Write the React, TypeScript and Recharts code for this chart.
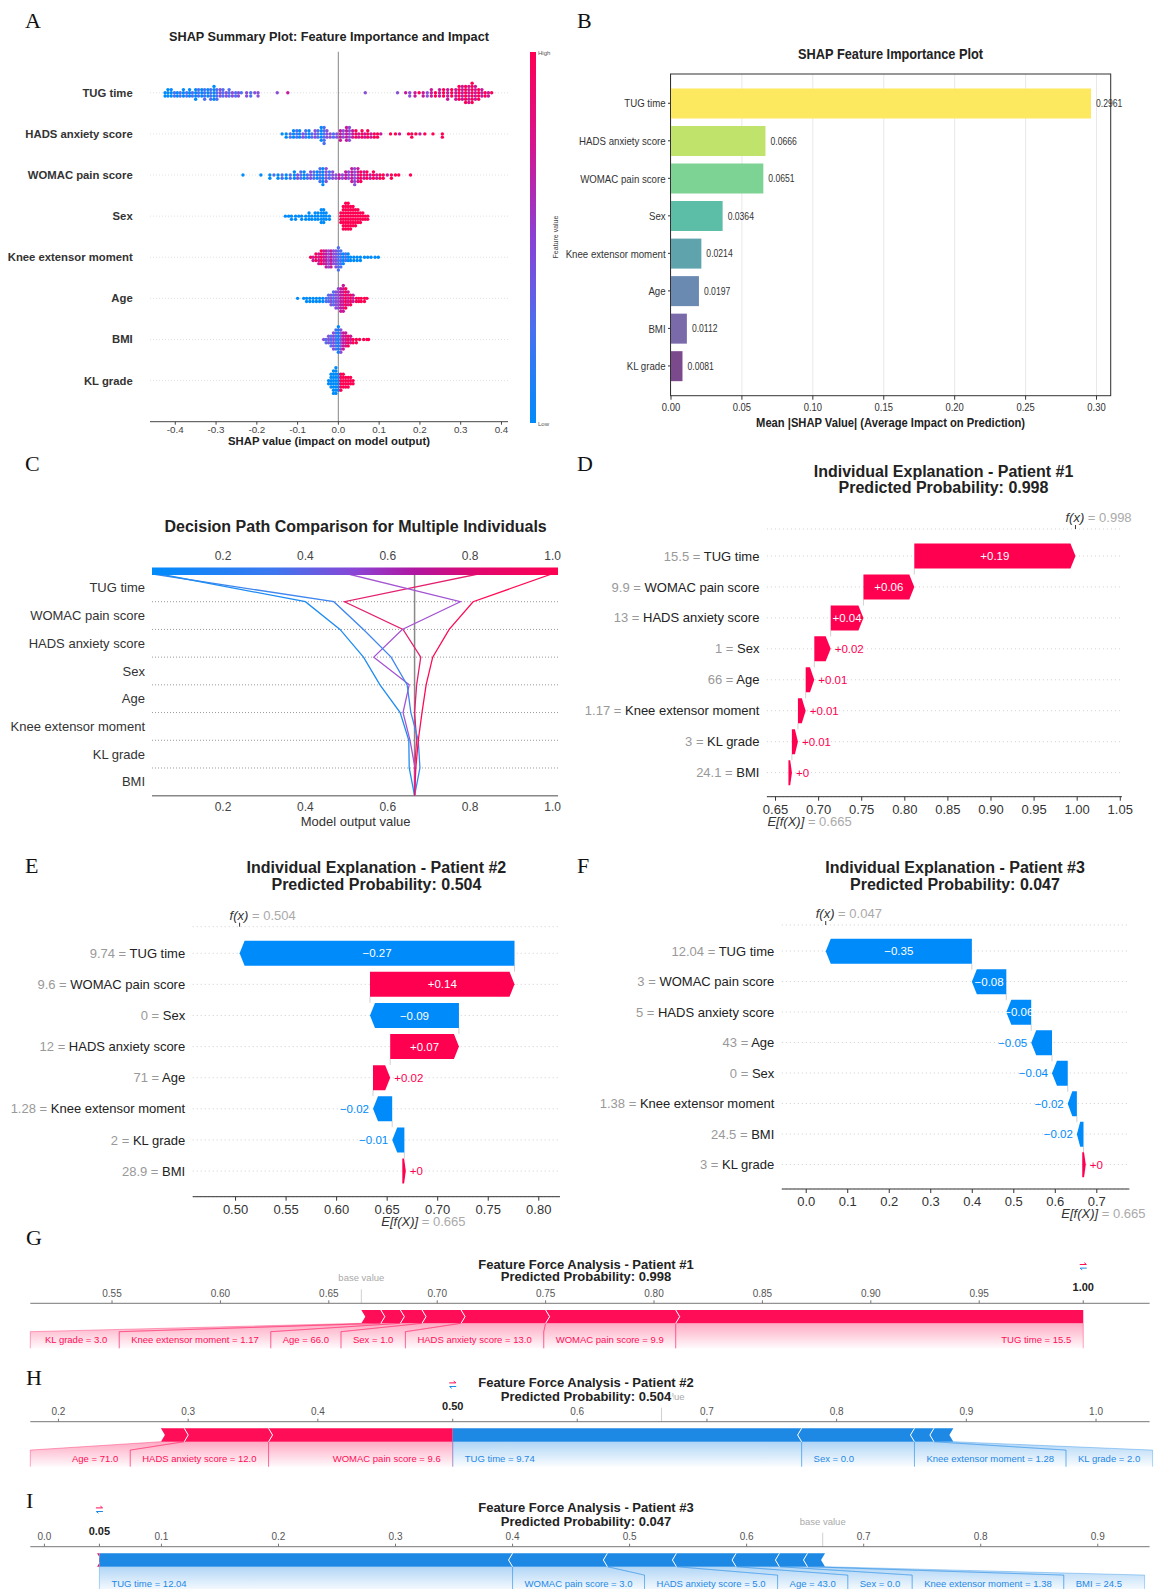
import React from 'react'
import {
  ScatterChart, Scatter, BarChart, Bar, ComposedChart, XAxis, YAxis, CartesianGrid,
  ReferenceLine, ReferenceArea, Cell, LabelList,
} from 'recharts'

const SANS = '"Liberation Sans", Arial, Helvetica, sans-serif'
const SERIF = '"Liberation Serif", "Times New Roman", Times, serif'
const NARROW_SCALE = 0.82 // panel B uses a condensed face

const SHAP_RED = '#ff0051'
const SHAP_BLUE = '#008bfb'
const FORCE_RED = '#ff0d57'
const FORCE_BLUE = '#1e88e5'
const BASE_VALUE = 0.665

// ---------- A: summary beeswarm ----------
const summaryFeatures = ['TUG time', 'HADS anxiety score', 'WOMAC pain score', 'Sex', 'Knee extensor moment', 'Age', 'BMI', 'KL grade']
const summaryTicks = [-0.4, -0.3, -0.2, -0.1, 0, 0.1, 0.2, 0.3, 0.4]
const featureColors = ['#008bfb', '#4d70f0', '#8a4fd6', '#c8189a', '#ff0052']

// [SHAP value, patients at that value, feature value class 0 = low .. 4 = high]
const swarmTug = [
  [-0.425, 2, 0], [-0.418, 3, 0], [-0.41, 3, 0], [-0.402, 2, 1], [-0.395, 2, 0], [-0.388, 2, 1], [-0.38, 3, 0],
  [-0.372, 2, 1], [-0.365, 3, 0], [-0.358, 2, 1], [-0.35, 4, 0], [-0.343, 3, 1], [-0.335, 3, 0], [-0.328, 4, 1],
  [-0.32, 3, 0], [-0.313, 4, 1], [-0.305, 5, 0], [-0.298, 4, 1], [-0.29, 3, 2], [-0.283, 3, 1], [-0.275, 2, 2],
  [-0.268, 3, 1], [-0.26, 2, 2], [-0.252, 2, 1], [-0.245, 2, 2], [-0.238, 1, 1], [-0.225, 2, 2], [-0.215, 2, 1],
  [-0.205, 1, 2], [-0.197, 2, 2], [-0.15, 1, 2], [-0.124, 1, 3],
  [0.066, 1, 2], [0.145, 1, 2], [0.165, 1, 3], [0.175, 2, 2], [0.188, 2, 3], [0.198, 1, 4], [0.208, 2, 3],
  [0.218, 2, 2], [0.228, 3, 3], [0.238, 2, 4], [0.248, 3, 3], [0.258, 3, 4], [0.268, 4, 3], [0.278, 3, 4],
  [0.288, 4, 3], [0.296, 5, 4], [0.304, 5, 3], [0.312, 6, 4], [0.32, 6, 3], [0.328, 7, 4], [0.336, 5, 3],
  [0.344, 4, 4], [0.352, 3, 3], [0.36, 2, 4], [0.368, 2, 3], [0.376, 1, 4],
]
const swarmHads = [
  [-0.138, 1, 0], [-0.128, 2, 0], [-0.118, 2, 1], [-0.11, 3, 0], [-0.102, 3, 1], [-0.095, 3, 0], [-0.087, 2, 2],
  [-0.08, 3, 1], [-0.072, 3, 0], [-0.065, 2, 1], [-0.057, 3, 2], [-0.05, 3, 1], [-0.042, 5, 0], [-0.035, 6, 1],
  [-0.028, 3, 2], [-0.02, 2, 2], [-0.012, 2, 1], [-0.004, 2, 2], [0.005, 4, 3], [0.012, 3, 2], [0.02, 5, 3],
  [0.027, 5, 2], [0.035, 3, 3], [0.043, 3, 4], [0.05, 2, 3], [0.058, 3, 4], [0.065, 2, 3], [0.072, 3, 4],
  [0.08, 2, 3], [0.088, 2, 4], [0.096, 2, 4], [0.104, 1, 3], [0.128, 1, 4], [0.14, 1, 4], [0.15, 1, 3],
  [0.172, 1, 4], [0.18, 2, 4], [0.19, 1, 4], [0.2, 1, 3], [0.212, 1, 4], [0.232, 1, 4], [0.255, 2, 4],
]
const swarmWomac = [
  [-0.234, 1, 0], [-0.19, 1, 0], [-0.168, 2, 0], [-0.158, 1, 1], [-0.148, 2, 0], [-0.138, 2, 1], [-0.128, 2, 0],
  [-0.118, 2, 1], [-0.108, 3, 0], [-0.1, 2, 2], [-0.092, 3, 1], [-0.084, 3, 0], [-0.076, 2, 1], [-0.068, 3, 2],
  [-0.06, 3, 1], [-0.052, 3, 0], [-0.045, 5, 1], [-0.038, 6, 0], [-0.03, 5, 2], [-0.022, 3, 1], [-0.014, 3, 2],
  [-0.006, 2, 2], [0.002, 2, 3], [0.01, 2, 2], [0.018, 3, 3], [0.025, 3, 2], [0.033, 5, 3], [0.04, 6, 2],
  [0.048, 5, 3], [0.055, 4, 4], [0.063, 3, 3], [0.07, 3, 4], [0.078, 2, 3], [0.086, 3, 4], [0.094, 2, 3],
  [0.102, 2, 4], [0.11, 2, 4], [0.12, 1, 3], [0.13, 2, 4], [0.14, 1, 4], [0.148, 1, 4], [0.177, 1, 4],
]
const swarmSex = [
  [-0.13, 1, 0], [-0.122, 1, 0], [-0.115, 2, 0], [-0.105, 2, 0], [-0.097, 1, 0], [-0.09, 2, 0], [-0.08, 2, 0],
  [-0.072, 3, 0], [-0.065, 2, 0], [-0.057, 3, 0], [-0.05, 3, 0], [-0.042, 5, 0], [-0.036, 5, 0], [-0.03, 3, 0],
  [-0.022, 2, 0],
  [0.006, 4, 4], [0.012, 8, 4], [0.018, 9, 4], [0.024, 9, 4], [0.03, 8, 4], [0.036, 7, 4], [0.042, 6, 4],
  [0.048, 5, 4], [0.054, 4, 4], [0.06, 3, 4], [0.066, 2, 4], [0.072, 2, 4],
]
const swarmKnee = [
  [-0.068, 1, 4], [-0.062, 2, 3], [-0.055, 3, 4], [-0.048, 4, 3], [-0.042, 5, 4], [-0.036, 5, 3], [-0.03, 6, 3],
  [-0.024, 6, 2], [-0.018, 6, 3], [-0.012, 5, 2], [-0.006, 6, 2], [0, 8, 1], [0.006, 6, 1], [0.012, 4, 0],
  [0.018, 3, 1], [0.024, 3, 0], [0.03, 2, 0], [0.038, 2, 0], [0.046, 2, 0], [0.054, 2, 0], [0.064, 1, 0],
  [0.072, 1, 0], [0.08, 1, 0], [0.09, 1, 0], [0.098, 1, 0],
]
const swarmAge = [
  [-0.1, 1, 0], [-0.085, 1, 0], [-0.078, 2, 0], [-0.07, 2, 0], [-0.062, 2, 0], [-0.054, 2, 0], [-0.046, 2, 0],
  [-0.038, 2, 0], [-0.03, 2, 1], [-0.024, 3, 1], [-0.018, 4, 2], [-0.012, 5, 1], [-0.006, 6, 2], [0, 7, 2],
  [0.006, 8, 3], [0.012, 9, 3], [0.018, 7, 4], [0.024, 5, 3], [0.03, 4, 4], [0.036, 3, 3], [0.044, 2, 4],
  [0.05, 2, 4], [0.056, 2, 4], [0.064, 2, 4], [0.07, 1, 4],
]
const swarmBmi = [
  [-0.036, 1, 2], [-0.03, 2, 1], [-0.024, 3, 2], [-0.018, 4, 1], [-0.012, 6, 2], [-0.006, 7, 1], [0, 9, 0],
  [0.006, 8, 2], [0.012, 6, 3], [0.018, 5, 3], [0.024, 4, 4], [0.03, 3, 3], [0.036, 2, 4], [0.044, 2, 4],
  [0.052, 1, 4], [0.062, 1, 4], [0.07, 1, 4], [0.074, 1, 4],
]
const swarmKl = [
  [-0.024, 2, 0], [-0.018, 5, 0], [-0.012, 8, 0], [-0.006, 9, 0], [0, 6, 0],
  [0.006, 6, 4], [0.012, 5, 4], [0.018, 4, 4], [0.024, 4, 4], [0.03, 3, 4], [0.036, 2, 4],
]
const swarmRows = [swarmTug, swarmHads, swarmWomac, swarmSex, swarmKnee, swarmAge, swarmBmi, swarmKl]
const SWARM_STEP = 0.078 // one dot height, in row units

const swarmPoints = swarmRows.flatMap((row, r) =>
  row.flatMap(([v, n, c]) =>
    Array.from({ length: n }, (_, k) => ({
      x: v,
      y: r + (k % 2 ? (k + 1) / 2 : -k / 2) * SWARM_STEP,
      fill: featureColors[c],
    }))
  )
)

// ---------- B: mean |SHAP| ----------
const importanceValues = [0.2961, 0.0666, 0.0651, 0.0364, 0.0214, 0.0197, 0.0112, 0.0081]
const importanceColors = ['#fde95f', '#bfe36b', '#7dd394', '#5dbea8', '#5fa3ad', '#6b8ab1', '#7a6aaa', '#7b4a8c']
const importanceTicks = [0, 0.05, 0.1, 0.15, 0.2, 0.25, 0.3]
const importanceData = summaryFeatures.map((f, i) => ({ feature: f, value: importanceValues[i] }))

// ---------- C: decision paths ----------
const decisionFeatures = ['TUG time', 'WOMAC pain score', 'HADS anxiety score', 'Sex', 'Age', 'Knee extensor moment', 'KL grade', 'BMI']
const decisionTicks = [0.2, 0.4, 0.6, 0.8, 1.0]
// model output at each feature boundary, final prediction (top) down to base value (bottom)
const decisionPatient1 = [0.998, 0.807, 0.749, 0.709, 0.693, 0.683, 0.674, 0.668, 0.665]
const decisionPatient2 = [0.504, 0.776, 0.635, 0.566, 0.652, 0.637, 0.654, 0.666, 0.665]
const decisionPatient3 = [0.047, 0.4, 0.484, 0.541, 0.581, 0.63, 0.651, 0.652, 0.665]
const decisionPatient4 = [0.03, 0.469, 0.541, 0.608, 0.647, 0.656, 0.674, 0.678, 0.665]
const decisionPatient5 = [0.819, 0.495, 0.637, 0.68, 0.67, 0.665, 0.67, 0.665, 0.665]
const decisionColors = ['#ff0a55', '#a453d2', '#1e8cf2', '#3f86ee', '#e4206f']
const decisionPaths = [decisionPatient5, decisionPatient2, decisionPatient4, decisionPatient3, decisionPatient1]
const decisionPathColors = [decisionColors[4], decisionColors[1], decisionColors[3], decisionColors[2], decisionColors[0]]

// ---------- D/E/F: waterfalls ----------
const p1Names = ['TUG time', 'WOMAC pain score', 'HADS anxiety score', 'Sex', 'Age', 'Knee extensor moment', 'KL grade', 'BMI']
const p1Inputs = ['15.5', '9.9', '13', '1', '66', '1.17', '3', '24.1']
const p1Shap = [0.187, 0.059, 0.038, 0.019, 0.01, 0.009, 0.007, 0.004]
const p2Names = ['TUG time', 'WOMAC pain score', 'Sex', 'HADS anxiety score', 'Age', 'Knee extensor moment', 'KL grade', 'BMI']
const p2Inputs = ['9.74', '9.6', '0', '12', '71', '1.28', '2', '28.9']
const p2Shap = [-0.272, 0.143, -0.088, 0.068, 0.017, -0.019, -0.012, 0.002]
const p3Names = ['TUG time', 'WOMAC pain score', 'HADS anxiety score', 'Age', 'Sex', 'Knee extensor moment', 'BMI', 'KL grade']
const p3Inputs = ['12.04', '3', '5', '43', '0', '1.38', '24.5', '3']
const p3Shap = [-0.352, -0.083, -0.06, -0.05, -0.038, -0.022, -0.016, 0.003]
const p1Ticks = [0.65, 0.7, 0.75, 0.8, 0.85, 0.9, 0.95, 1.0, 1.05]
const p2Ticks = [0.5, 0.55, 0.6, 0.65, 0.7, 0.75, 0.8]
const p3Ticks = [0, 0.1, 0.2, 0.3, 0.4, 0.5, 0.6, 0.7]

// ---------- G/H/I: force plots ----------
const forceP1PosLabels = ['TUG time = 15.5', 'WOMAC pain score = 9.9', 'HADS anxiety score = 13.0', 'Sex = 1.0', 'Age = 66.0', 'Knee extensor moment = 1.17', 'KL grade = 3.0']
const forceP1PosShap = [0.188, 0.06, 0.039, 0.018, 0.01, 0.009, 0.009]
const forceP2PosLabels = ['WOMAC pain score = 9.6', 'HADS anxiety score = 12.0', 'Age = 71.0']
const forceP2PosShap = [0.142, 0.065, 0.018]
const forceP2NegLabels = ['TUG time = 9.74', 'Sex = 0.0', 'Knee extensor moment = 1.28', 'KL grade = 2.0']
const forceP2NegShap = [-0.269, -0.087, -0.015, -0.015]
const forceP3PosLabels = ['KL grade = 3.0']
const forceP3PosShap = [0.002]
const forceP3NegLabels = ['TUG time = 12.04', 'WOMAC pain score = 3.0', 'HADS anxiety score = 5.0', 'Age = 43.0', 'Sex = 0.0', 'Knee extensor moment = 1.38', 'BMI = 24.5']
const forceP3NegShap = [-0.353, -0.081, -0.059, -0.051, -0.037, -0.024, -0.015]
const forceP1Ticks = [0.55, 0.6, 0.65, 0.7, 0.75, 0.8, 0.85, 0.9, 0.95]
const forceP2Ticks = [0.2, 0.3, 0.4, 0.6, 0.7, 0.8, 0.9, 1.0]
const forceP3Ticks = [0, 0.1, 0.2, 0.3, 0.4, 0.5, 0.6, 0.7, 0.8, 0.9]

// ---------- helpers ----------
const vb = (p: any) => p.viewBox || p
const fmtShap = (v: number) => (v < 0 ? '\u2212' : '+') + Math.abs(v).toFixed(2).replace(/\.?0+$/, '')

let measureCtx: any = null
function textWidth(s: string, size: number) {
  if (!measureCtx) measureCtx = document.createElement('canvas').getContext('2d')
  measureCtx.font = `${size}px "Liberation Sans", Arial, sans-serif`
  return measureCtx.measureText(s).width
}

// condensed text for panel B
function NarrowText({ x, y, anchor, size, dy = 0, weight = 400, children }: any) {
  return (
    <text transform={`translate(${x} ${y}) scale(${NARROW_SCALE} 1)`} dy={dy} textAnchor={anchor} fontSize={size}
      fontWeight={weight} fill="#333" fontFamily={SANS}>{children}</text>
  )
}

function SummaryPanel() {
  return (
    <ScatterChart width={570} height={450} margin={{ top: 51.7, right: 62, bottom: 8.3, left: 0 }}>
      <XAxis type="number" dataKey="x" domain={[-0.462, 0.416]} allowDataOverflow ticks={summaryTicks} interval={0}
        tickFormatter={(v: number) => v.toFixed(1)} height={20} tickSize={3} tickMargin={1.8} stroke="#444"
        tick={{ fontSize: 9.8, fill: '#444', fontFamily: SANS }} />
      <YAxis type="number" dataKey="y" domain={[-1, 8]} reversed allowDataOverflow ticks={[0, 1, 2, 3, 4, 5, 6, 7]} interval={0}
        tickFormatter={(v: number) => summaryFeatures[v]} width={150} axisLine={false} tickLine={false} tickSize={0} tickMargin={17.3}
        tick={{ fontSize: 11.3, fontWeight: 700, fill: '#333', fontFamily: SANS }} />
      {summaryFeatures.map((f, i) => <ReferenceLine key={f} y={i} stroke="#e2e2e2" strokeDasharray="1 2" />)}
      <ReferenceLine x={0} stroke="#9a9a9a" strokeWidth={1.2} />
      <Scatter data={swarmPoints} isAnimationActive={false}
        shape={(p: any) => <circle cx={p.cx} cy={p.cy} r={1.7} fill={p.payload.fill} />} />
    </ScatterChart>
  )
}

function ImportancePanel() {
  return (
    <BarChart layout="vertical" width={598} height={450} data={importanceData} barSize={30}
      margin={{ top: 74, right: 47.3, bottom: 34.3, left: 0 }}>
      <CartesianGrid horizontal={false} stroke="#e8e8e8" />
      <XAxis type="number" domain={[0, 0.31]} allowDataOverflow ticks={importanceTicks} interval={0}
        height={20} axisLine={false} tickSize={4} tickMargin={3.3} stroke="#333"
        tick={(p: any) => <NarrowText x={p.x} y={p.y} dy="0.71em" anchor="middle" size={11.5}>{Number(p.payload.value).toFixed(2)}</NarrowText>} />
      <YAxis type="category" dataKey="feature" width={111} axisLine={false} tickSize={3} tickMargin={2.4} stroke="#333"
        padding={{ top: 10.5, bottom: 11 }} interval={0}
        tick={(p: any) => <NarrowText x={p.x} y={p.y} dy="0.355em" anchor="end" size={11.8}>{p.payload.value}</NarrowText>} />
      <Bar dataKey="value" isAnimationActive={false}>
        {importanceData.map((d, i) => <Cell key={d.feature} fill={importanceColors[i]} />)}
        <LabelList dataKey="value"
          content={(p: any) => (
            <NarrowText x={p.x + p.width + 5} y={p.y + p.height / 2} dy="0.355em" anchor="start" size={10.5}>
              {Number(p.value).toFixed(4)}
            </NarrowText>
          )} />
      </Bar>
    </BarChart>
  )
}

function DecisionPanel() {
  const anchor = [{ x: 0.5, y: 4 }]
  return (
    <ScatterChart width={570} height={380} margin={{ top: 104, right: 12, bottom: 14.3, left: 0 }}>
      <XAxis xAxisId="bottom" type="number" dataKey="x" domain={[0.0277, 1.0131]} allowDataOverflow ticks={decisionTicks} interval={0}
        tickFormatter={(v: number) => v.toFixed(1)} height={20} axisLine={{ stroke: '#888', strokeWidth: 1.5 }} tickLine={false}
        tickSize={0} tickMargin={7} tick={{ fontSize: 12, fill: '#444', fontFamily: SANS }} />
      <XAxis xAxisId="top" orientation="top" type="number" dataKey="x" domain={[0.0277, 1.0131]} allowDataOverflow ticks={decisionTicks}
        interval={0} tickFormatter={(v: number) => v.toFixed(1)} height={20} axisLine={false} tickLine={false}
        tickSize={0} tickMargin={13.7} tick={{ fontSize: 12, fill: '#444', fontFamily: SANS }} />
      <YAxis type="number" dataKey="y" domain={[0, 8]} reversed allowDataOverflow ticks={[0.5, 1.5, 2.5, 3.5, 4.5, 5.5, 6.5, 7.5]}
        interval={0} tickFormatter={(v: number) => decisionFeatures[Math.floor(v)]} width={152} axisLine={false} tickLine={false}
        tickSize={0} tickMargin={7} tick={{ fontSize: 13, fill: '#333', fontFamily: SANS }} />
      {[1, 2, 3, 4, 5, 6, 7].map((i) => (
        <ReferenceLine key={i} xAxisId="bottom" y={i} stroke="#999" strokeDasharray="1 2" />
      ))}
      <ReferenceLine xAxisId="bottom" x={BASE_VALUE} stroke="#888" strokeWidth={1.5} />
      <Scatter xAxisId="top" data={anchor} isAnimationActive={false} shape={() => <g />} />
      {decisionPaths.map((path, i) => (
        <Scatter key={i} xAxisId="bottom" isAnimationActive={false}
          data={path.map((v, b) => ({ x: v, y: b }))}
          line={{ stroke: decisionPathColors[i], strokeWidth: 1.3 }} shape={() => <g />} />
      ))}
    </ScatterChart>
  )
}

function buildWaterfall(names: string[], inputs: string[], shap: number[]) {
  const rows: any[] = names.map((name, i) => ({ name, input: inputs[i], shap: shap[i], bottom: i === names.length - 1 }))
  let cum = BASE_VALUE
  for (let i = rows.length - 1; i >= 0; i--) {
    rows[i].start = cum
    cum += rows[i].shap
    rows[i].end = cum
    rows[i].range = [Math.min(rows[i].start, rows[i].end), Math.max(rows[i].start, rows[i].end)]
  }
  return { rows, fx: cum }
}

function renderWfBar(p: any) {
  const r = p.payload
  const pos = r.shap >= 0
  let x0 = p.x
  let w = p.width
  if (w < 0) { x0 += w; w = -w }
  if (w < 3.5) { if (!pos) x0 -= 3.5 - w; w = 3.5 }
  const x1 = x0 + w
  const t = p.y, bt = p.y + p.height, m = p.y + p.height / 2
  const head = Math.min(5, w * 0.5)
  const pts = pos
    ? [[x0, t], [x1 - head, t], [x1, m], [x1 - head, bt], [x0, bt]]
    : [[x1, t], [x0 + head, t], [x0, m], [x0 + head, bt], [x1, bt]]
  const color = pos ? SHAP_RED : SHAP_BLUE
  const label = fmtShap(r.shap)
  const inside = w > 23
  const startPx = pos ? x0 : x1
  return (
    <g>
      {!r.bottom && <line x1={startPx} x2={startPx} y1={bt} y2={bt + 6} stroke="#bbb" strokeWidth={0.7} />}
      <polygon points={pts.map((q) => q.join(',')).join(' ')} fill={color} />
      {inside ? (
        <text x={(x0 + x1) / 2} y={m + 4.1} textAnchor="middle" fill="#fff" fontSize={11.5} fontFamily={SANS}>{label}</text>
      ) : (
        <text x={pos ? x1 + 4 : x0 - 4} y={m + 4.1} textAnchor={pos ? 'start' : 'end'} fill={color} fontSize={11.5} fontFamily={SANS}>{label}</text>
      )}
    </g>
  )
}

const wfFxLabel = (fx: number) => (p: any) => {
  const { x, y } = vb(p)
  return (
    <g>
      <line x1={x} x2={x} y1={y - 4} y2={y} stroke="#333" />
      <text x={x - 10} y={y - 7} fontSize={13} fontFamily={SANS}>
        <tspan fill="#333" fontStyle="italic">f(x)</tspan>
        <tspan fill="#aaa"> = {fx.toFixed(3)}</tspan>
      </text>
    </g>
  )
}

const wfBaseLabel = (p: any) => {
  const { x, y, height } = vb(p)
  return (
    <text x={x - 21} y={y + height + 29} fontSize={13} fontFamily={SANS}>
      <tspan fill="#333" fontStyle="italic">E[f(X)]</tspan>
      <tspan fill="#aaa"> = {BASE_VALUE.toFixed(3)}</tspan>
    </text>
  )
}

function WaterfallPanel(props: any) {
  const { left, top, width, height, plotLeft, plotRight, plotTop, plotBottom, padding, domain, ticks, digits, names, inputs, shap } = props
  const { rows, fx } = buildWaterfall(names, inputs, shap)
  const margin = { top: plotTop, right: width - plotRight, bottom: height - plotBottom - 25, left: 0 }
  const yTick = (p: any) => {
    const r = rows.find((row: any) => row.name === p.payload.value)
    return (
      <text x={p.x} y={p.y} dy={4.6} textAnchor="end" fontSize={13} fontFamily={SANS}>
        <tspan fill="#999">{r.input} = </tspan>
        <tspan fill="#222">{r.name}</tspan>
      </text>
    )
  }
  // dotted f(x) and E[f(X)] guides, drawn in the grid layer so they stay behind the bars
  const guideXs = ({ xAxis }: any) => {
    const s = xAxis && xAxis.scale
    return typeof s === 'function' ? [s(fx), s(BASE_VALUE)] : []
  }
  return (
    <div style={{ position: 'absolute', left, top }}>
      <BarChart layout="vertical" width={width} height={height} data={rows} margin={margin} barSize={25}>
        <CartesianGrid vertical={false} stroke="#cfcfcf" strokeDasharray="1 3" />
        <CartesianGrid horizontal={false} verticalCoordinatesGenerator={guideXs} stroke="#bdbdbd" strokeDasharray="2 2" />
        <XAxis type="number" domain={domain} allowDataOverflow ticks={ticks} interval={0}
          tickFormatter={(v: number) => v.toFixed(digits)} height={25} tickSize={4} tickMargin={3.6} stroke="#333"
          tick={{ fontSize: 13, fill: '#333', fontFamily: SANS }} />
        <YAxis type="category" dataKey="name" width={plotLeft} axisLine={false} tickLine={false} tickSize={0} tickMargin={7.5}
          padding={padding} interval={0} tick={yTick} />
        <ReferenceLine x={fx} stroke="none" label={wfFxLabel(fx)} />
        <ReferenceLine x={BASE_VALUE} stroke="none" label={wfBaseLabel} />
        <Bar dataKey="range" isAnimationActive={false} shape={renderWfBar} />
      </BarChart>
    </div>
  )
}

function buildForce(posLabels: string[], posShap: number[], negLabels: string[], negShap: number[]) {
  const fx = BASE_VALUE + posShap.reduce((a, b) => a + b, 0) + negShap.reduce((a, b) => a + b, 0)
  const segs: any[] = []
  let edge = fx
  posLabels.forEach((label, i) => {
    segs.push({ side: 'pos', label, order: i, lo: edge - posShap[i], hi: edge })
    edge -= posShap[i]
  })
  edge = fx
  negLabels.forEach((label, i) => {
    const w = -negShap[i]
    segs.push({ side: 'neg', label, order: i, lo: edge, hi: edge + w })
    edge += w
  })
  return { fx, segs }
}

const BOX_PAD = 12
const FORCE_FONT = 9.5

function forceBoxes(segs: any[], px: (v: number) => number, left: number, right: number) {
  const boxes: any = {}
  ;['pos', 'neg'].forEach((side) => {
    const shown = segs.filter((s) => s.side === side && px(s.hi) - px(s.lo) >= 6)
    let edge = 0
    shown.forEach((s, i) => {
      const need = textWidth(s.label, FORCE_FONT) + 2 * BOX_PAD
      if (side === 'pos') {
        const R = i === 0 ? px(s.hi) : edge
        let L = Math.min(px(s.lo), R - need)
        if (i === shown.length - 1) L = Math.min(L, left)
        boxes[s.label] = { L, R }
        edge = L
      } else {
        const L = i === 0 ? px(s.lo) : edge
        let R = Math.max(px(s.hi), L + need)
        if (i === shown.length - 1) R = Math.max(R, right - 5)
        boxes[s.label] = { L, R }
        edge = R
      }
    })
  })
  return boxes
}

function renderForceSeg(p: any, seg: any, segs: any[], domain: number[]) {
  const { x, y, width, height } = p
  const k = width / (seg.hi - seg.lo)
  const px = (v: number) => x + (v - seg.lo) * k
  const boxes = forceBoxes(segs, px, px(domain[0]), px(domain[1]))
  const a = x, b = x + width, t = y, bt = y + height, m = y + height / 2
  const d = 4
  const first = seg.order === 0
  const pos = seg.side === 'pos'
  const color = pos ? FORCE_RED : FORCE_BLUE
  let pts: number[][]
  if (pos) pts = first ? [[a, t], [b, t], [b, bt], [a, bt], [a + d, m]] : [[a, t], [b, t], [b + d, m], [b, bt], [a, bt], [a + d, m]]
  else pts = first ? [[a, t], [b, t], [b - d, m], [b, bt], [a, bt]] : [[a, t], [b, t], [b - d, m], [b, bt], [a, bt], [a - d, m]]
  const box = boxes[seg.label]
  const lt = bt + 8.4, lb = bt + 25
  return (
    <g>
      {box && (
        <g>
          <polygon points={`${a},${bt} ${b},${bt} ${box.R},${lt} ${box.R},${lb} ${box.L},${lb} ${box.L},${lt}`}
            fill={pos ? 'url(#shadeRed)' : 'url(#shadeBlue)'} />
          <polyline points={`${a},${bt} ${box.L},${lt} ${box.L},${lb}`} fill="none" stroke={color} strokeOpacity={0.45} strokeWidth={0.8} />
          <polyline points={`${b},${bt} ${box.R},${lt} ${box.R},${lb}`} fill="none" stroke={color} strokeOpacity={0.45} strokeWidth={0.8} />
          <text x={pos ? box.R - BOX_PAD : box.L + BOX_PAD} y={bt + 20.1} textAnchor={pos ? 'end' : 'start'}
            fontSize={FORCE_FONT} fill={color} fontFamily={SANS}>{seg.label}</text>
        </g>
      )}
      <polygon points={pts.map((q) => q.join(',')).join(' ')} fill={color} />
      {!first && (
        <polyline points={pos ? `${b},${t} ${b + d},${m} ${b},${bt}` : `${a},${t} ${a - d},${m} ${a},${bt}`}
          fill="none" stroke="#fff" strokeWidth={1} />
      )}
    </g>
  )
}

const forceBaseLabel = (p: any) => {
  const { x, y } = vb(p)
  return (
    <g>
      <line x1={x} x2={x} y1={y - 14} y2={y} stroke="#d0d0d0" />
      <text x={x} y={y - 22} textAnchor="middle" fontSize={9.5} fill="#aaa" fontFamily={SANS}>base value</text>
    </g>
  )
}

const forceFxLabel = (fx: number) => (p: any) => {
  const { x, y } = vb(p)
  const iy = y - 37
  return (
    <g>
      <line x1={x} x2={x} y1={y - 3} y2={y} stroke="#777" />
      <text x={x} y={y - 12} textAnchor="middle" fontSize={11} fontWeight={700} fill="#222" fontFamily={SANS}>{fx.toFixed(2)}</text>
      <path d={`M${x - 3.5},${iy - 1.8} H${x + 3} M${x + 1},${iy - 3.6} L${x + 3.2},${iy - 1.8}`} stroke={FORCE_RED} fill="none" />
      <path d={`M${x + 3.5},${iy + 1.8} H${x - 3} M${x - 1},${iy + 3.6} L${x - 3.2},${iy + 1.8}`} stroke={FORCE_BLUE} fill="none" />
    </g>
  )
}

function ForcePanel(props: any) {
  const { top, height, axisY, domain, ticks, digits, posLabels, posShap, negLabels, negShap } = props
  const { fx, segs } = buildForce(posLabels, posShap, negLabels, negShap)
  const mt = axisY - top - 20
  const mb = height - (axisY - top) - 20
  const anchors = [{ x: domain[0], y: 0 }, { x: domain[1], y: 1 }]
  return (
    <div style={{ position: 'absolute', left: 0, top }}>
      <ComposedChart width={1158} height={height} margin={{ top: mt, right: 8.4, bottom: mb, left: 30.3 }}>
        <XAxis type="number" dataKey="x" orientation="top" domain={domain} allowDataOverflow ticks={ticks} interval={0}
          tickFormatter={(v: number) => v.toFixed(digits)} height={20} tickSize={3} tickMargin={3.6} stroke="#777"
          tick={{ fontSize: 10, fill: '#555', fontFamily: SANS }} />
        <YAxis type="number" dataKey="y" domain={[0, 1]} hide />
        <Scatter data={anchors} isAnimationActive={false} shape={() => <g />} />
        <ReferenceLine x={BASE_VALUE} stroke="none" label={forceBaseLabel} />
        <ReferenceLine x={fx} stroke="none" label={forceFxLabel(fx)} />
        {segs.map((s) => (
          <ReferenceArea key={s.label} x1={s.lo} x2={s.hi} y1={0} y2={0.667}
            shape={(p: any) => renderForceSeg(p, s, segs, domain)} />
        ))}
      </ComposedChart>
    </div>
  )
}

function Txt({ x, y, size, bold, anchor = 'middle', fill = '#222', family = SANS, halo, children, transform, textLength }: any) {
  return (
    <text x={x} y={y} fontSize={size} fontWeight={bold ? 700 : 400} textAnchor={anchor} fill={fill} fontFamily={family}
      stroke={halo ? '#fff' : undefined} strokeWidth={halo ? 4 : undefined} strokeLinejoin="round"
      style={{ paintOrder: 'stroke' }} transform={transform}
      textLength={textLength} lengthAdjust={textLength ? 'spacingAndGlyphs' : undefined}>{children}</text>
  )
}

function Overlay() {
  const letters: [string, number, number][] = [
    ['A', 25, 28], ['B', 577, 28], ['C', 25, 471], ['D', 577, 471], ['E', 25, 873], ['F', 577, 873],
    ['G', 26, 1245], ['H', 26, 1385], ['I', 26, 1508],
  ]
  return (
    <svg width={1158} height={1589} style={{ position: 'absolute', left: 0, top: 0, pointerEvents: 'none' }}>
      <defs>
        <linearGradient id="cbVertical" x1="0" y1="0" x2="0" y2="1">
          <stop offset="0" stopColor="#ff0052" />
          <stop offset="0.25" stopColor="#d6148f" />
          <stop offset="0.5" stopColor="#8a40d6" />
          <stop offset="0.75" stopColor="#4870f0" />
          <stop offset="1" stopColor="#008bfb" />
        </linearGradient>
        <linearGradient id="cbHorizontal" x1="0" y1="0" x2="1" y2="0">
          <stop offset="0" stopColor="#008bfb" />
          <stop offset="0.3" stopColor="#3d77f0" />
          <stop offset="0.5" stopColor="#8a45d5" />
          <stop offset="0.65" stopColor="#b0169f" />
          <stop offset="0.8" stopColor="#e0086e" />
          <stop offset="1" stopColor="#ff0052" />
        </linearGradient>
        <linearGradient id="shadeRed" x1="0" y1="0" x2="0" y2="1">
          <stop offset="0" stopColor={FORCE_RED} stopOpacity={0.35} />
          <stop offset="1" stopColor={FORCE_RED} stopOpacity={0.02} />
        </linearGradient>
        <linearGradient id="shadeBlue" x1="0" y1="0" x2="0" y2="1">
          <stop offset="0" stopColor={FORCE_BLUE} stopOpacity={0.35} />
          <stop offset="1" stopColor={FORCE_BLUE} stopOpacity={0.02} />
        </linearGradient>
      </defs>

      {letters.map(([l, x, y]) => (
        <Txt key={l} x={x} y={y} size={22} anchor="start" fill="#111" family={SERIF}>{l}</Txt>
      ))}

      {/* A */}
      <Txt x={329} y={40.6} size={12.7} bold>SHAP Summary Plot: Feature Importance and Impact</Txt>
      <Txt x={329} y={444.8} size={11.3} bold>SHAP value (impact on model output)</Txt>
      <rect x={530} y={52} width={6} height={371} fill="url(#cbVertical)" />
      <Txt x={538} y={54.5} size={6} anchor="start" fill="#555">High</Txt>
      <Txt x={538} y={425.5} size={6} anchor="start" fill="#555">Low</Txt>
      <Txt x={0} y={0} size={7} fill="#444" transform="translate(557.5 237) rotate(-90)">Feature value</Txt>

      {/* B */}
      <Txt x={890.6} y={59.4} size={15} bold textLength={185}>SHAP Feature Importance Plot</Txt>
      <Txt x={890.6} y={427.4} size={13} bold textLength={269}>Mean |SHAP Value| (Average Impact on Prediction)</Txt>
      <rect x={670.5} y={74} width={440.2} height={321.7} fill="none" stroke="#333" strokeWidth={1} />

      {/* C */}
      <Txt x={355.6} y={531.8} size={16} bold>Decision Path Comparison for Multiple Individuals</Txt>
      <rect x={152} y={567.5} width={406} height={7.5} fill="url(#cbHorizontal)" />
      <Txt x={355.6} y={826.4} size={13} fill="#333">Model output value</Txt>

      {/* D, E, F */}
      <Txt x={943.5} y={476.5} size={16} bold>Individual Explanation - Patient #1</Txt>
      <Txt x={943.5} y={493.1} size={16} bold>Predicted Probability: 0.998</Txt>
      <Txt x={376.4} y={873.1} size={16} bold>Individual Explanation - Patient #2</Txt>
      <Txt x={376.4} y={890.1} size={16} bold>Predicted Probability: 0.504</Txt>
      <Txt x={955} y={872.5} size={16} bold>Individual Explanation - Patient #3</Txt>
      <Txt x={955} y={889.8} size={16} bold>Predicted Probability: 0.047</Txt>

      {/* G, H, I */}
      <Txt x={586} y={1269} size={13} bold halo>Feature Force Analysis - Patient #1</Txt>
      <Txt x={586} y={1281.4} size={13} bold halo>Predicted Probability: 0.998</Txt>
      <Txt x={586} y={1387} size={13} bold halo>Feature Force Analysis - Patient #2</Txt>
      <Txt x={586} y={1400.7} size={13} bold halo>Predicted Probability: 0.504</Txt>
      <Txt x={586} y={1512} size={13} bold halo>Feature Force Analysis - Patient #3</Txt>
      <Txt x={586} y={1525.7} size={13} bold halo>Predicted Probability: 0.047</Txt>
    </svg>
  )
}

export default function App() {
  return (
    <div style={{ position: 'absolute', left: 0, top: 0, width: 1158, height: 1589, background: '#fff', overflow: 'hidden', fontFamily: SANS }}>
      <div style={{ position: 'absolute', left: 0, top: 0 }}><SummaryPanel /></div>
      <div style={{ position: 'absolute', left: 560, top: 0 }}><ImportancePanel /></div>
      <div style={{ position: 'absolute', left: 0, top: 450 }}><DecisionPanel /></div>
      <WaterfallPanel left={570} top={450} width={588} height={380} plotLeft={196.9} plotRight={552} plotTop={79} plotBottom={346.7}
        padding={{ top: 11.5, bottom: 8.6 }} domain={[0.64, 1.052]} ticks={p1Ticks} digits={2}
        names={p1Names} inputs={p1Inputs} shap={p1Shap} />
      <WaterfallPanel left={0} top={840} width={570} height={395} plotLeft={192.7} plotRight={560} plotTop={86.7} plotBottom={356.7}
        padding={{ top: 11, bottom: 10.1 }} domain={[0.4576, 0.821]} ticks={p2Ticks} digits={2}
        names={p2Names} inputs={p2Inputs} shap={p2Shap} />
      <WaterfallPanel left={570} top={840} width={588} height={395} plotLeft={211.8} plotRight={559.4} plotTop={85} plotBottom={349}
        padding={{ top: 10.75, bottom: 9.25 }} domain={[-0.0588, 0.7785]} ticks={p3Ticks} digits={1}
        names={p3Names} inputs={p3Inputs} shap={p3Shap} />
      <ForcePanel top={1250} height={100} axisY={1303.3} domain={[0.5123, 1.0286]} ticks={forceP1Ticks} digits={2}
        posLabels={forceP1PosLabels} posShap={forceP1PosShap} negLabels={[]} negShap={[]} />
      <ForcePanel top={1365} height={103} axisY={1421.7} domain={[0.1783, 1.0413]} ticks={forceP2Ticks} digits={1}
        posLabels={forceP2PosLabels} posShap={forceP2PosShap} negLabels={forceP2NegLabels} negShap={forceP2NegShap} />
      <ForcePanel top={1490} height={99} axisY={1546.7} domain={[-0.01205, 0.9443]} ticks={forceP3Ticks} digits={1}
        posLabels={forceP3PosLabels} posShap={forceP3PosShap} negLabels={forceP3NegLabels} negShap={forceP3NegShap} />
      <Overlay />
    </div>
  )
}
